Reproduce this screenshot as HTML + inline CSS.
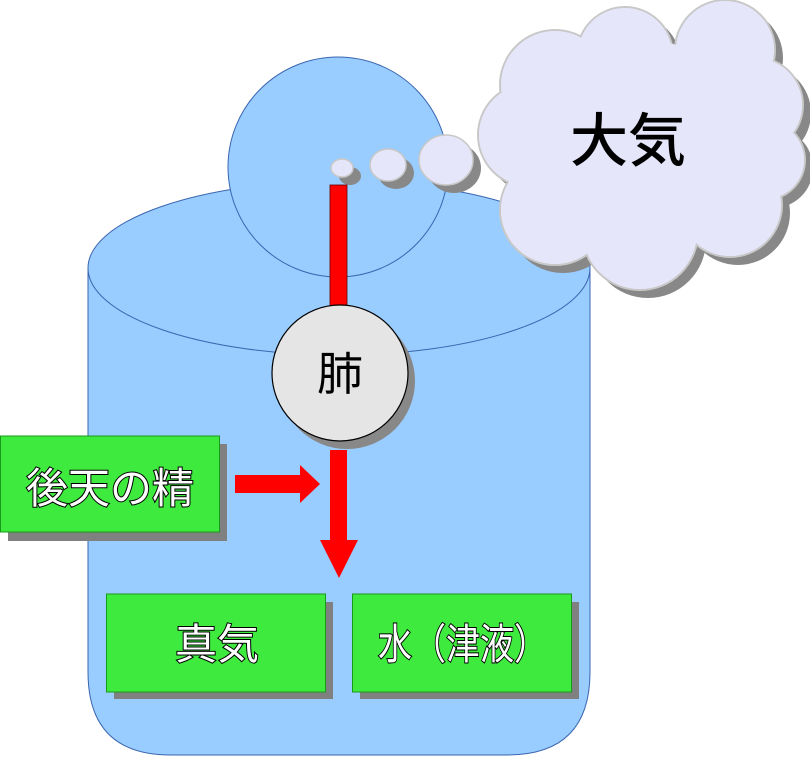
<!DOCTYPE html>
<html><head><meta charset="utf-8"><style>
html,body{margin:0;padding:0;background:#fff;}
svg{display:block;}
.gt{font-family:"Noto Sans CJK JP",sans-serif;font-size:42px;fill:#fff;stroke:#000;stroke-width:2px;paint-order:stroke;text-anchor:middle;}
</style></head><body>
<svg width="810" height="757" viewBox="0 0 810 757" xmlns="http://www.w3.org/2000/svg">
<path d="M88,268 L88,672 Q88,755 171,755 L507,755 Q590,755 590,672 L590,268 Z" fill="#99ccff" stroke="#3a66b0" stroke-width="1"/>
<ellipse cx="339" cy="268" rx="251" ry="87" fill="#99ccff" stroke="#3a66b0" stroke-width="1"/>
<circle cx="338" cy="167" r="110" fill="#99ccff" stroke="#3a66b0" stroke-width="1"/>
<g fill="#888" transform="translate(8,8)">
<circle cx="555" cy="85" r="55"/><circle cx="625" cy="55" r="48"/><circle cx="725" cy="50" r="50"/>
<circle cx="755" cy="105" r="48"/><circle cx="765" cy="160" r="40"/><circle cx="730" cy="205" r="52"/>
<circle cx="640" cy="232" r="58"/><circle cx="555" cy="210" r="55"/><circle cx="530" cy="135" r="52"/>
<circle cx="645" cy="140" r="100"/>
<ellipse cx="446" cy="160" rx="27" ry="25"/><ellipse cx="388" cy="165" rx="18" ry="16"/><ellipse cx="342" cy="168" rx="11" ry="9"/>
</g>
<g fill="#e6e6fa" stroke="#c8c8c8" stroke-width="2">
<circle cx="555" cy="85" r="55"/><circle cx="625" cy="55" r="48"/><circle cx="725" cy="50" r="50"/>
<circle cx="755" cy="105" r="48"/><circle cx="765" cy="160" r="40"/><circle cx="730" cy="205" r="52"/>
<circle cx="640" cy="232" r="58"/><circle cx="555" cy="210" r="55"/><circle cx="530" cy="135" r="52"/>
</g>
<g fill="#e6e6fa">
<circle cx="555" cy="85" r="54"/><circle cx="625" cy="55" r="47"/><circle cx="725" cy="50" r="49"/>
<circle cx="755" cy="105" r="47"/><circle cx="765" cy="160" r="39"/><circle cx="730" cy="205" r="51"/>
<circle cx="640" cy="232" r="57"/><circle cx="555" cy="210" r="54"/><circle cx="530" cy="135" r="51"/>
<circle cx="645" cy="140" r="100"/>
</g>
<g fill="#e6e6fa" stroke="#c8c8c8" stroke-width="1.5">
<ellipse cx="446" cy="160" rx="27" ry="25"/><ellipse cx="388" cy="165" rx="18" ry="16"/><ellipse cx="342" cy="168" rx="11" ry="9"/>
</g>
<text x="628" y="161" font-family="'Noto Sans CJK JP',sans-serif" font-size="58" font-weight="500" text-anchor="middle" fill="#000">大気</text>
<rect x="330" y="185" width="17" height="125" fill="#ff0000" stroke="#600" stroke-width="0.8"/>
<circle cx="347" cy="381" r="68" fill="#888"/>
<circle cx="340" cy="373" r="68" fill="#e5e5e5" stroke="#000" stroke-width="1.2"/>
<text x="340" y="390" font-family="'Noto Sans CJK JP',sans-serif" font-size="46" text-anchor="middle" fill="#000">肺</text>
<path d="M330,450 L347,450 L347,540 L358,540 L339,578 L320,540 L330,540 Z" fill="#ff0000"/>
<path d="M235,475 L300,475 L300,465 L320,484 L300,503 L300,493 L235,493 Z" fill="#ff0000"/>
<rect x="8" y="444" width="219" height="97" fill="#808080"/>
<rect x="0.5" y="436" width="219" height="96" fill="#3eea3e" stroke="#1a9a1a"/>
<text class="gt" x="110" y="503">後天の精</text>
<rect x="114" y="602" width="219" height="97" fill="#808080"/>
<rect x="106.5" y="594" width="219" height="98" fill="#3eea3e" stroke="#1a9a1a"/>
<text class="gt" x="217" y="659">真気</text>
<rect x="360" y="602" width="219" height="97" fill="#808080"/>
<rect x="352.5" y="594" width="219" height="98" fill="#3eea3e" stroke="#1a9a1a"/>
<text class="gt" x="463" y="659" textLength="170" lengthAdjust="spacingAndGlyphs">水（津液）</text>
</svg>
</body></html>
